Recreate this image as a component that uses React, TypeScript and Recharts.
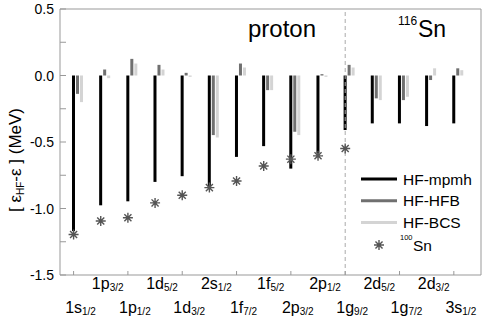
import React from 'react';
import { ComposedChart, Bar, Scatter, XAxis, YAxis, ReferenceLine, Legend } from 'recharts';

const levels = ['1s', '1p', '1p', '1d', '1d', '2s', '1f', '1f', '2p', '2p', '1g', '2d', '1g', '2d', '3s'];
const levelSubs = ['1/2', '3/2', '1/2', '5/2', '3/2', '1/2', '7/2', '5/2', '3/2', '1/2', '9/2', '5/2', '7/2', '3/2', '1/2'];
const hfMpmh = [-1.17, -0.976, -0.946, -0.8, -0.757, -0.838, -0.612, -0.531, -0.7, -0.587, -0.41, -0.36, -0.36, -0.38, -0.36];
const hfHfb = [-0.138, 0.045, 0.125, 0.08, 0.02, -0.448, 0.09, -0.11, -0.423, 0.01, 0.08, -0.172, -0.185, -0.034, 0.054];
const hfBcs = [-0.2, -0.02, 0.09, 0.045, -0.01, -0.466, 0.06, -0.11, -0.448, -0.01, 0.06, -0.185, -0.16, 0.054, 0.04];
const sn100 = [-1.195, -1.094, -1.07, -0.958, -0.9, -0.843, -0.793, -0.68, -0.629, -0.604, -0.549];
const yTicks = [-1.5, -1.25, -1.0, -0.75, -0.5, -0.25, 0, 0.25, 0.5];
const xTicks = levels.map((_, i) => i + 1);

const data = levels.map((l, i) => ({ x: i + 1, mpmh: hfMpmh[i], hfb: hfHfb[i], bcs: hfBcs[i] }));
const snData = sn100.map((v, i) => ({ x: i + 1, sn100: v }));

const FONT = '"Liberation Sans", Arial, Helvetica, sans-serif';
const AXIS = '#999';
const C_MPMH = '#000000';
const C_HFB = '#707070';
const C_BCS = '#d4d4d4';
const C_STAR = '#555555';

const charW: Record<string, number> = { '1': 0.556, '2': 0.556, '3': 0.556, s: 0.5, p: 0.556, d: 0.556, f: 0.278, g: 0.556 };

const XTick = (props: any) => {
  const { x, y, payload } = props;
  const i = Math.round(payload.value) - 1;
  if (i < 0 || i >= levels.length) return null;
  const main = levels[i];
  const fs = 16;
  const w = main.split('').reduce((s, c) => s + (charW[c] || 0.556), 0) * fs;
  const upper = i % 2 === 1;
  const base = upper ? y + 13.5 : y + 37.5;
  return (
    <g>
      {!upper && <line x1={x} x2={x} y1={y} y2={y - 4} stroke={AXIS} strokeWidth={1} />}
      <text x={x - w / 2} y={base} fontSize={fs} fontFamily={FONT} fill="#000" textAnchor="start">
        {main}
        <tspan fontSize={10} dy={2}>{levelSubs[i]}</tspan>
      </text>
    </g>
  );
};

const YTick = (props: any) => {
  const { x, y, payload } = props;
  const v = payload.value as number;
  const major = Math.abs(v * 2 - Math.round(v * 2)) < 1e-6;
  const ax = x + 6;
  return (
    <g>
      <line x1={ax} x2={ax + 6} y1={y} y2={y} stroke={AXIS} strokeWidth={1} />
      {major && (
        <text x={x} y={y + 5} fontSize={14} fontFamily={FONT} fill="#000" textAnchor="end">
          {v.toFixed(1)}
        </text>
      )}
    </g>
  );
};

const ShiftBar = (props: any) => {
  const { x, y, width, height, fill } = props;
  if (x == null || y == null) return null;
  const top = Math.min(y, y + height);
  return <rect x={x + 4} y={top} width={width} height={Math.abs(height)} fill={fill} />;
};

const starPath = (cx: number, cy: number, r: number) => {
  const d = r * Math.SQRT1_2;
  return `M${cx - r},${cy}L${cx + r},${cy}M${cx},${cy - r}L${cx},${cy + r}M${cx - d},${cy - d}L${cx + d},${cy + d}M${cx - d},${cy + d}L${cx + d},${cy - d}`;
};

const Star = (props: any) => {
  const { cx, cy } = props;
  if (cx == null || cy == null) return null;
  return (
    <g>
      <path d={starPath(cx, cy, 5)} stroke={C_STAR} strokeWidth={1.4} fill="none" />
      <circle cx={cx} cy={cy} r={1.3} fill={C_STAR} />
    </g>
  );
};

const legendItems = [
  { name: 'HF-mpmh', color: C_MPMH },
  { name: 'HF-HFB', color: C_HFB },
  { name: 'HF-BCS', color: C_BCS },
];

const Overlay = () => (
  <svg width={491} height={316} style={{ position: 'absolute', left: 0, top: 0 }}>
    <text transform="translate(21,160) rotate(-90)" textAnchor="middle" fontSize={17} fontFamily={FONT} fill="#000">
      {'[ ε'}
      <tspan fontSize={10} dy={3}>HF</tspan>
      <tspan dy={-3}>{'-ε ] (MeV)'}</tspan>
    </text>
    <text x={248} y={37} fontSize={24} fontFamily={FONT} fill="#000">proton</text>
    <text x={398} y={25} fontSize={12} fontFamily={FONT} fill="#000">116</text>
    <text x={418} y={37} fontSize={23} fontFamily={FONT} fill="#000">Sn</text>
    {legendItems.map((it, k) => {
      const yy = 179 + k * 21.7;
      return (
        <g key={it.name}>
          <line x1={361} x2={397} y1={yy} y2={yy} stroke={it.color} strokeWidth={3} />
          <text x={403} y={yy + 5.5} fontSize={15.5} fontFamily={FONT} fill="#000">{it.name}</text>
        </g>
      );
    })}
    <path d={starPath(379, 245, 5)} stroke={C_STAR} strokeWidth={1.4} fill="none" />
    <circle cx={379} cy={245} r={1.3} fill={C_STAR} />
    <text x={400} y={240} fontSize={7.5} fontFamily={FONT} fill="#000">100</text>
    <text x={413} y={250.5} fontSize={15.5} fontFamily={FONT} fill="#000">Sn</text>
  </svg>
);

export default function App() {
  return (
    <div style={{ position: 'absolute', left: 0, top: 0, width: 491, height: 316, background: '#fff' }}>
      <ComposedChart
        width={491}
        height={316}
        data={data}
        margin={{ top: 9, right: 10, bottom: 0, left: 0 }}
        barGap={1}
      >
        <XAxis
          type="number"
          dataKey="x"
          domain={[0.5, 16]}
          ticks={xTicks}
          interval={0}
          allowDataOverflow
          height={41}
          tickSize={0}
          tickMargin={0}
          tickLine={false}
          axisLine={{ stroke: AXIS }}
          tick={<XTick />}
        />
        <YAxis
          type="number"
          domain={[-1.5, 0.5]}
          ticks={yTicks}
          interval={0}
          allowDataOverflow
          width={60}
          tickSize={0}
          tickMargin={6}
          tickLine={false}
          axisLine={{ stroke: AXIS }}
          tick={<YTick />}
        />
        <ReferenceLine y={0.5} stroke={AXIS} strokeWidth={1} />
        <ReferenceLine x={16} stroke={AXIS} strokeWidth={1} />
        <ReferenceLine x={11} stroke="#aaa" strokeWidth={1} strokeDasharray="4 3" />
        <Bar dataKey="mpmh" fill={C_MPMH} barSize={3} shape={<ShiftBar />} isAnimationActive={false} />
        <Bar dataKey="hfb" fill={C_HFB} barSize={3} shape={<ShiftBar />} isAnimationActive={false} />
        <Bar dataKey="bcs" fill={C_BCS} barSize={3} shape={<ShiftBar />} isAnimationActive={false} />
        <Scatter data={snData} dataKey="sn100" shape={<Star />} isAnimationActive={false} />
        <Legend
          layout="horizontal"
          verticalAlign="middle"
          align="center"
          content={() => <Overlay />}
          wrapperStyle={{ left: 0, top: 0, width: 491, height: 316, pointerEvents: 'none' }}
        />
      </ComposedChart>
    </div>
  );
}
